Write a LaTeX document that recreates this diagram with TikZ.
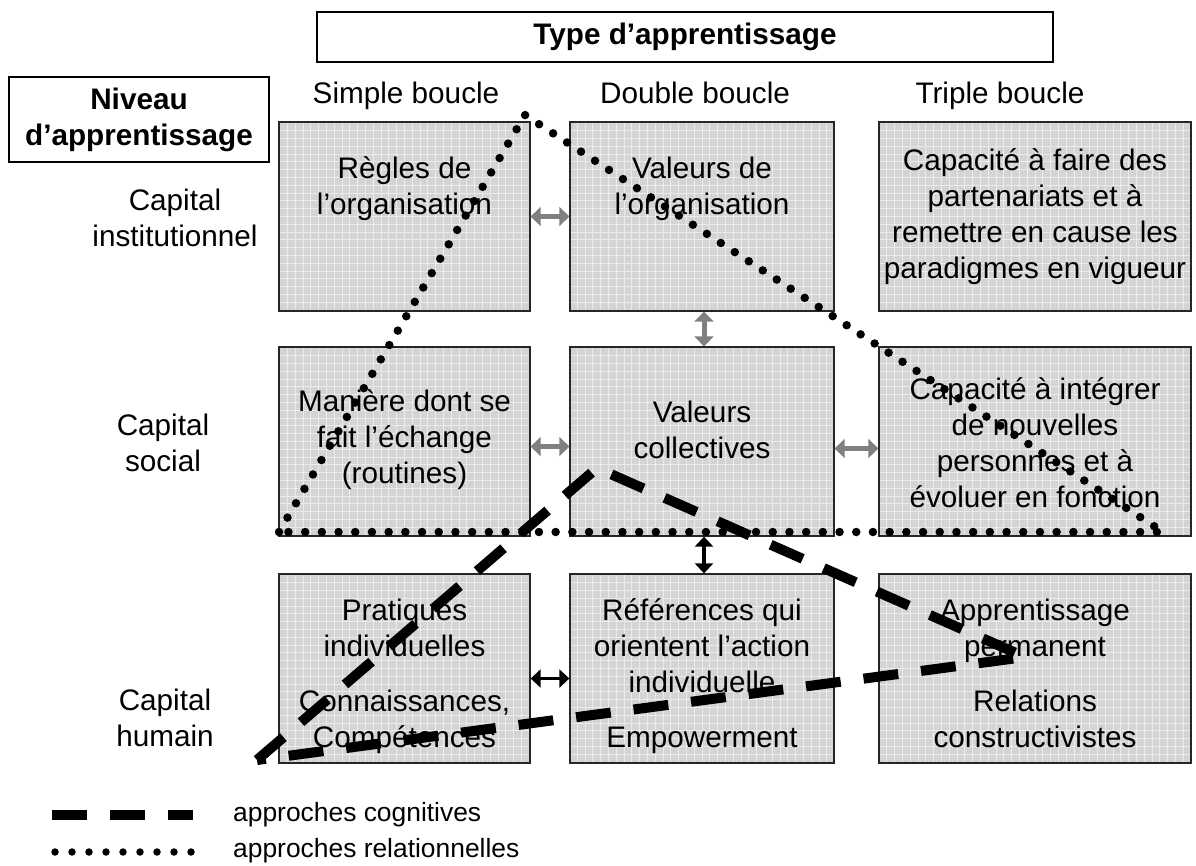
\documentclass[tikz,border=0pt]{standalone}
\usepackage{fontspec}
\setmainfont{Liberation Sans}
\usetikzlibrary{arrows.meta}
\newcommand\mystr{\rule[-9pt]{0pt}{36pt}}
\newcommand\bigf{\fontsize{29.7}{36}\selectfont}
\newcommand\legf{\fontsize{26.4}{32}\selectfont}
\begin{document}
\begin{tikzpicture}[x=1pt,y=-1pt,
  cell/.style={draw=black!85, line width=1.3pt, fill=black!17, inner sep=0pt,
    minimum height=189pt,
    path picture={\draw[black!8, line width=1pt]
      ([xshift=-10pt,yshift=-10pt]path picture bounding box.south west) grid[step=7.8pt]
      ([xshift=10pt,yshift=10pt]path picture bounding box.north east);}},
  txt/.style={anchor=north, inner sep=0pt, align=center, font=\bigf},
  hdr/.style={draw=black, line width=1.3pt, inner sep=0pt, align=center, font=\bigf\bfseries},
  garrow/.style={draw=black!50, line width=5pt, {Triangle[length=10pt,width=19pt]}-{Triangle[length=10pt,width=19pt]}},
  barrow/.style={draw=black, line width=3.5pt, {Triangle[length=10pt,width=18pt]}-{Triangle[length=10pt,width=18pt]}},
  dotline/.style={line width=8.5pt, line cap=round, dash pattern=on 0pt off 16.7pt},
  dashline/.style={line width=10pt, dash pattern=on 35pt off 23pt}
]
\useasboundingbox (0,0) rectangle (1196,865);

% header boxes
\node[hdr, minimum width=736pt, minimum height=50pt] (type) at (685,37) {Type d’apprentissage};
\node[hdr, minimum width=260pt, minimum height=85pt] (niv) at (139,119.5) {Niveau\\d’apprentissage};

% column headers
\node[txt] (h1) at (406,76) {\mystr Simple boucle};
\node[txt] (h2) at (695,76) {\mystr Double boucle};
\node[txt] (h3) at (1000,76) {\mystr Triple boucle};

% row labels
\node[txt] (r1) at (175,183) {\mystr Capital\\institutionnel};
\node[txt] (r2) at (163,408) {\mystr Capital\\social};
\node[txt] (r3) at (165,683) {\mystr Capital\\humain};

% cells
\node[cell, minimum width=251pt] (b11) at (404.5,216.5) {};
\node[cell, minimum width=264pt] (b12) at (702,216.5) {};
\node[cell, minimum width=312pt] (b13) at (1035,216.5) {};
\node[cell, minimum width=251pt] (b21) at (404.5,441.5) {};
\node[cell, minimum width=264pt] (b22) at (702,441.5) {};
\node[cell, minimum width=312pt] (b23) at (1035,441.5) {};
\node[cell, minimum width=251pt] (b31) at (404.5,668.5) {};
\node[cell, minimum width=264pt] (b32) at (702,668.5) {};
\node[cell, minimum width=312pt] (b33) at (1035,668.5) {};

% arrows
\draw[garrow] (b11.east) -- (b12.west);
\draw[garrow] ([xshift=2pt]b12.south) -- ([xshift=2pt]b22.north);
\draw[garrow] ([yshift=-5pt]b21.east) -- ([yshift=-5pt]b22.west);
\draw[garrow] ([yshift=-7pt]b22.east) -- ([yshift=-7pt]b23.west);
\draw[barrow] ([xshift=2pt]b22.south) -- ([xshift=2pt]b32.north);
\draw[barrow] ([yshift=-10pt]b31.east) -- ([yshift=-10pt]b32.west);

% cell texts
\node[txt] (t11) at (404.5,151) {\mystr Règles de\\l’organisation};
\node[txt] (t12) at (702,151) {\mystr Valeurs de\\l’organisation};
\node[txt] (t13) at (1035,143) {\mystr Capacité à faire des\\partenariats et à\\remettre en cause les\\paradigmes en vigueur};
\node[txt] (t21) at (404.5,384) {\mystr Manière dont se\\fait l’échange\\(routines)};
\node[txt] (t22) at (702,395) {\mystr Valeurs\\collectives};
\node[txt] (t23) at (1035,372) {\mystr Capacité à intégrer\\de nouvelles\\personnes et à\\évoluer en fonction};
\node[txt] (t31) at (404.5,593) {\mystr Pratiques\\individuelles\\[19pt]Connaissances,\\Compétences};
\node[txt] (t32) at (702,593) {\mystr Références qui\\orientent l’action\\individuelle\\[19pt]Empowerment};
\node[txt] (t33) at (1035,593) {\mystr Apprentissage\\permanent\\[19pt]Relations\\constructivistes};

% dotted triangle (approches relationnelles)
\coordinate (d1) at (279,532);
\coordinate (d2) at (525,115);
\coordinate (d3) at (1163,532);
\draw[dotline] (d1) -- (d2) -- (d3) -- cycle;

% dashed triangle (approches cognitives)
\coordinate (c1) at (257,760);
\coordinate (c2) at (597,468);
\coordinate (c3) at (1025,657);
\draw[dashline] (c1) -- (c2) -- (c3) -- cycle;

% legend
\coordinate (l1) at (52,815);
\coordinate (l2) at (193,815);
\coordinate (l3) at (55,852);
\coordinate (l4) at (191,852);
\draw[dashline, line width=10pt] (l1) -- (l2);
\draw[dotline, line width=7.5pt, dash pattern=on 0pt off 17pt] (l3) -- (l4);
\node[anchor=west, inner sep=0pt, font=\legf] (leg1) at (233,815) {approches cognitives};
\node[anchor=west, inner sep=0pt, font=\legf] (leg2) at (233,851) {approches relationnelles};
\end{tikzpicture}
\end{document}
